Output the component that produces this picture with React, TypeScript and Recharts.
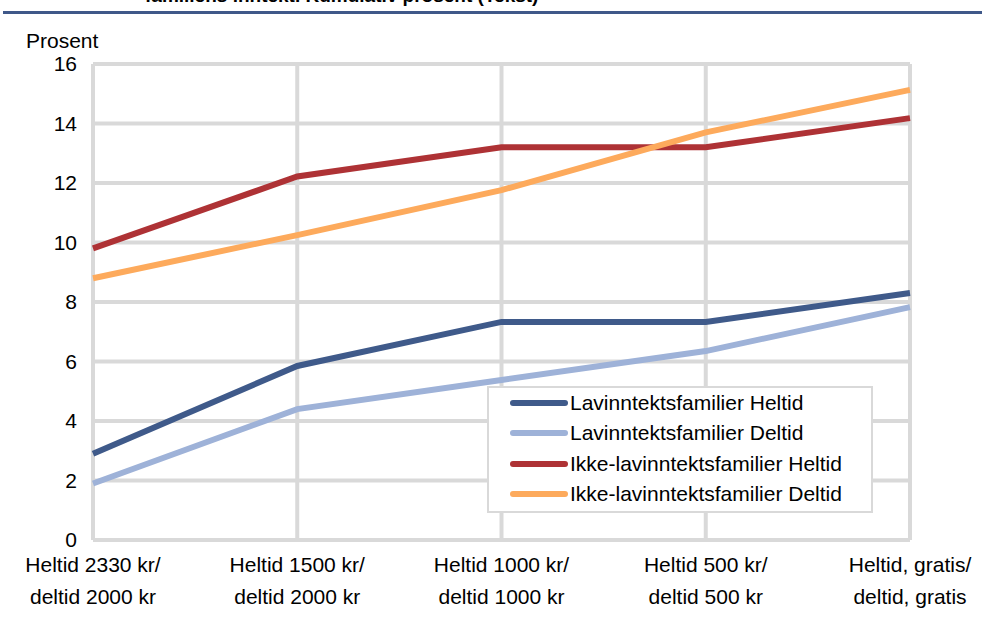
import React from 'react';
import { LineChart, Line, XAxis, YAxis, CartesianGrid } from 'recharts';

const categories = [
  ['Heltid 2330 kr/', 'deltid 2000 kr'],
  ['Heltid 1500 kr/', 'deltid 2000 kr'],
  ['Heltid 1000 kr/', 'deltid 1000 kr'],
  ['Heltid 500 kr/', 'deltid 500 kr'],
  ['Heltid, gratis/', 'deltid, gratis'],
];

const lavHeltid = [2.9, 5.85, 7.33, 7.33, 8.3];
const lavDeltid = [1.9, 4.4, 5.38, 6.35, 7.83];
const ikkeHeltid = [9.8, 12.22, 13.2, 13.2, 14.18];
const ikkeDeltid = [8.8, 10.25, 11.76, 13.7, 15.13];

const yTicks = [0, 2, 4, 6, 8, 10, 12, 14, 16];

const seriesList = [
  { key: 'lavHeltid', name: 'Lavinntektsfamilier Heltid', color: '#3F5A8A' },
  { key: 'lavDeltid', name: 'Lavinntektsfamilier Deltid', color: '#9EB2D8' },
  { key: 'ikkeHeltid', name: 'Ikke-lavinntektsfamilier Heltid', color: '#AE3235' },
  { key: 'ikkeDeltid', name: 'Ikke-lavinntektsfamilier Deltid', color: '#FDAA5C' },
];

const data = categories.map((c, i) => ({
  cat: c.join('|'),
  lavHeltid: lavHeltid[i],
  lavDeltid: lavDeltid[i],
  ikkeHeltid: ikkeHeltid[i],
  ikkeDeltid: ikkeDeltid[i],
}));

const FONT = '"Liberation Sans", Arial, sans-serif';

const XTick = (props: any) => {
  const { x, payload } = props;
  const lines = String(payload.value).split('|');
  return (
    <text x={x} y={572} textAnchor="middle" fontFamily={FONT} fontSize={21} fill="#000">
      <tspan x={x} y={572}>{lines[0]}</tspan>
      <tspan x={x} y={604}>{lines[1]}</tspan>
    </text>
  );
};

const LegendBox = () => (
  <div style={{ position: 'absolute', left: 487, top: 386, width: 386, height: 127, border: '2px solid #D9D9D9', background: '#fff', boxSizing: 'border-box', fontFamily: FONT, fontSize: 21, color: '#000' }}>
    {seriesList.map((s, i) => (
      <div key={s.key} style={{ position: 'absolute', left: 0, top: 1 + i * 30.3, height: 28, display: 'flex', alignItems: 'center' }}>
        <div style={{ marginLeft: 21, width: 58, height: 6, borderRadius: 3, background: s.color }} />
        <span style={{ marginLeft: 2, whiteSpace: 'nowrap' }}>{s.name}</span>
      </div>
    ))}
  </div>
);

export default function App() {
  return (
    <div style={{ position: 'absolute', left: 0, top: 0, width: 982, height: 621, background: '#fff', overflow: 'hidden' }}>
      <div style={{ position: 'absolute', left: 145, top: -15, fontFamily: FONT, fontWeight: 'bold', fontSize: 19, whiteSpace: 'nowrap', color: '#000' }}>
        familiens inntekt. Kumulativ prosent (Tekst)
      </div>
      <div style={{ position: 'absolute', left: 3, right: 0, top: 11, height: 3, background: '#3F5889' }} />
      <div style={{ position: 'absolute', left: 26, top: 29, fontFamily: FONT, fontSize: 21, color: '#000' }}>Prosent</div>
      <LineChart width={982} height={621} data={data} margin={{ top: 64, right: 72, bottom: 0, left: 0 }}>
        <CartesianGrid stroke="#D9D9D9" strokeWidth={4} />
        <XAxis
          dataKey="cat"
          tick={<XTick />}
          tickLine={false}
          axisLine={false}
          height={81}
          interval={0}
        />
        <YAxis
          domain={[0, 16]}
          ticks={yTicks}
          width={93}
          tickLine={false}
          axisLine={false}
          tickSize={0}
          tickMargin={16}
          tick={{ fill: '#000', fontSize: 21, fontFamily: FONT }}
        />
        {seriesList.map((s) => (
          <Line
            key={s.key}
            type="linear"
            dataKey={s.key}
            name={s.name}
            stroke={s.color}
            strokeWidth={6}
            dot={false}
            activeDot={false}
            isAnimationActive={false}
          />
        ))}
      </LineChart>
      <LegendBox />
    </div>
  );
}
